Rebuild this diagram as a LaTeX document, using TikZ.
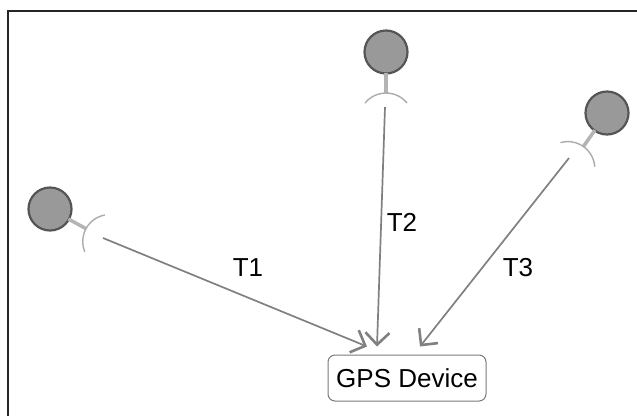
\documentclass[tikz,border=0pt]{standalone}
\usepackage{fontspec}
\setmainfont{Liberation Sans}
\usetikzlibrary{arrows.meta,calc}
\definecolor{ballfill}{HTML}{999999}
\definecolor{balledge}{HTML}{555555}
\definecolor{stemcol}{HTML}{B4B4B4}
\definecolor{arccol}{HTML}{ABABAB}
\definecolor{linecol}{HTML}{808080}
\definecolor{boxedge}{HTML}{7A7A7A}
\tikzset{
  ball/.style={circle,fill=ballfill,draw=balledge,line width=2.2pt,minimum size=43pt,inner sep=0pt},
  stem/.style={draw=stemcol,line width=3.5pt},
  socket/.style={draw=arccol,line width=1.4pt},
  conn/.style={draw=linecol,line width=1.7pt,-{Straight Barb[length=12pt,width=24pt,line width=2.6pt]}},
  devbox/.style={draw=boxedge,line width=1pt,rounded corners=7pt,minimum width=158pt,minimum height=46pt,inner sep=0pt,font=\fontsize{26}{31}\selectfont},
  lbl/.style={font=\fontsize{26}{31}\selectfont,inner sep=0pt}
}
\newcommand{\ballsocket}[3]{%
  \begin{scope}[shift={#1},rotate=#2]
    \node[ball] (#3) at (0pt,0pt) {};
    \draw[stem] (21pt,0pt) -- (41pt,0pt);
    \draw[socket] (68pt,0pt) ++(129:27pt) arc[start angle=129,end angle=231,radius=27pt];
  \end{scope}}
\begin{document}
\begin{tikzpicture}[x=1pt,y=-1pt]
  \useasboundingbox (0,0) rectangle (637,416);
  \draw[line width=2pt,color=black!85] (637,11) -- (8,11) -- (8,416);

  \ballsocket{(50,209)}{-28.6}{b1}
  \ballsocket{(386,52)}{-90}{b2}
  \ballsocket{(607,113)}{-125.2}{b3}

  \node[devbox] (gps) at (407,378) {GPS Device};

  \coordinate (s1) at (103,238);
  \coordinate (s2) at (385,107);
  \coordinate (s3) at (569,158);

  \draw[conn] (s1) -- ($(gps.north)+(-40,-8)$);
  \draw[conn] (s2) -- ($(gps.north)+(-30,-8)$);
  \draw[conn] (s3) -- ($(gps.north)+(13,-8)$);

  \node[lbl] (t1) at (248,268) {T1};
  \node[lbl] (t2) at (402,222) {T2};
  \node[lbl] (t3) at (518,268) {T3};
\end{tikzpicture}
\end{document}
